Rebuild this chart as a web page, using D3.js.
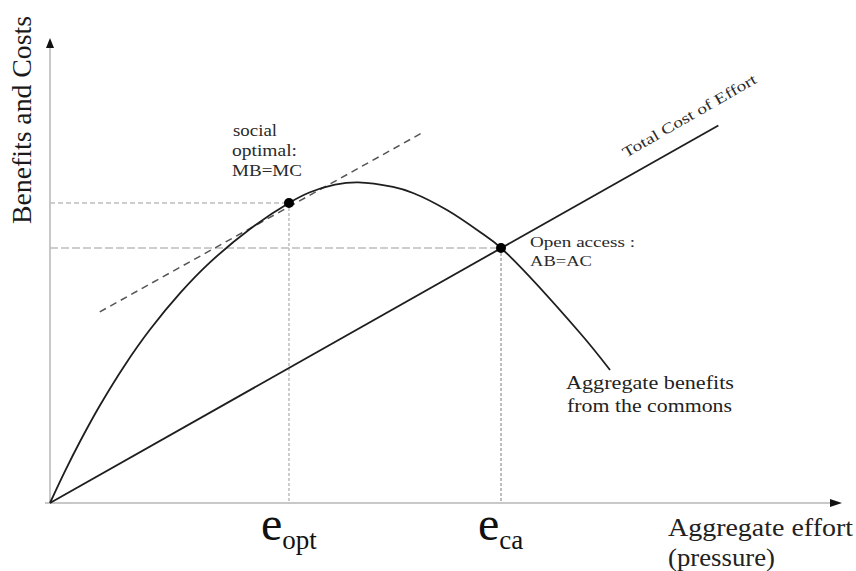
<!DOCTYPE html>
<html>
<head>
<meta charset="utf-8">
<script src="https://cdn.jsdelivr.net/npm/d3@7"></script>
<style>
  html, body { margin: 0; padding: 0; background: #fff; }
  svg { display: block; }
  text { font-family: "Liberation Serif", "Times New Roman", Times, serif; fill: #2a2a2a; }
</style>
</head>
<body>
<div id="chart"></div>
<script>
// ---- data (effort units 0..100, benefit/cost units 0..100) ----
const benefitX = [0, 1.90, 3.80, 6.33, 9.49, 12.66, 16.46, 20.25, 25.32, 30.25, 32.91, 36.08, 38.99, 43.42, 45.95, 50.25, 54.43, 57.09, 67.09, 70.89];
const benefitY = [0, 6.85, 13.22, 21.02, 29.70, 37.30, 45.13, 51.74, 58.92, 64.52, 66.82, 68.47, 68.97, 67.96, 66.67, 63.01, 58.28, 54.84, 36.56, 28.60];
const costX = [0, 84.6];
const costY = [0, 81.2];
const tangentX = [6.3, 47.1];
const tangentY = [41.1, 79.6];
const eOpt = 30.25, bOpt = 64.52;
const eCa = 57.09, bCa = 54.84;
const tickMain = ["e", "e"];
const tickSub = ["opt", "ca"];
const tickValues = [eOpt, eCa];

const W = 856, H = 571;
const FONT = '"Liberation Serif", "Times New Roman", Times, serif';
const svg = d3.select("#chart").append("svg").attr("width", W).attr("height", H);

const x = d3.scaleLinear().domain([0, 100]).range([50, 840]);
const y = d3.scaleLinear().domain([0, 100]).range([503, 38]);

const axisColor = "#c8c8c8";

// axes (no ticks) using d3 axis generators
const xAxis = svg.append("g").attr("transform", `translate(0,${y(0)})`)
  .call(d3.axisBottom(x).tickValues([]).tickSizeOuter(0));
xAxis.select(".domain").attr("stroke", axisColor).attr("stroke-width", 2)
  .attr("d", `M${x(0) - 5},0H${x(100) - 8}`);
const yAxis = svg.append("g").attr("transform", `translate(${x(0)},0)`)
  .call(d3.axisLeft(y).tickValues([]).tickSizeOuter(0));
yAxis.select(".domain").attr("stroke", axisColor).attr("stroke-width", 2)
  .attr("d", `M0,${y(0) + 1}V${y(100) + 4}`);

// arrowheads
svg.append("path")
  .attr("d", `M${x(0)},${y(100)} L${x(0) - 4},${y(100) + 10} L${x(0) + 4},${y(100) + 10} Z`)
  .attr("fill", "#111");
svg.append("path")
  .attr("d", `M${x(100) + 2},${y(0)} L${x(100) - 10},${y(0) - 4} L${x(100) - 10},${y(0) + 4} Z`)
  .attr("fill", "#111");

// reference lines
const refColor = "#bdbdbd";
svg.append("line").attr("x1", x(0)).attr("x2", x(eOpt)).attr("y1", y(bOpt)).attr("y2", y(bOpt))
  .attr("stroke", refColor).attr("stroke-width", 1.5).attr("stroke-dasharray", "5,3");
svg.append("line").attr("x1", x(0)).attr("x2", x(eCa)).attr("y1", y(bCa)).attr("y2", y(bCa))
  .attr("stroke", refColor).attr("stroke-width", 1.5).attr("stroke-dasharray", "8,3");
svg.append("line").attr("x1", x(eOpt)).attr("x2", x(eOpt)).attr("y1", y(bOpt)).attr("y2", y(0))
  .attr("stroke", refColor).attr("stroke-width", 1.5).attr("stroke-dasharray", "3,2");
svg.append("line").attr("x1", x(eCa)).attr("x2", x(eCa)).attr("y1", y(bCa)).attr("y2", y(0))
  .attr("stroke", "#a8a8a8").attr("stroke-width", 1.5).attr("stroke-dasharray", "3,2");

// tangent (dashed)
const line = d3.line().x(d => x(d[0])).y(d => y(d[1]));
svg.append("path").datum(d3.zip(tangentX, tangentY))
  .attr("d", line).attr("fill", "none").attr("stroke", "#555")
  .attr("stroke-width", 1.5).attr("stroke-dasharray", "7,5");

// cost line
svg.append("path").datum(d3.zip(costX, costY))
  .attr("d", line).attr("fill", "none").attr("stroke", "#1e1e1e").attr("stroke-width", 1.8);

// benefit curve
const curve = d3.line().x(d => x(d[0])).y(d => y(d[1])).curve(d3.curveCatmullRom.alpha(0.5));
svg.append("path").datum(d3.zip(benefitX, benefitY))
  .attr("d", curve).attr("fill", "none").attr("stroke", "#1e1e1e").attr("stroke-width", 1.8);

// points
svg.selectAll("circle.pt").data([[eOpt, bOpt], [eCa, bCa]]).enter().append("circle")
  .attr("cx", d => x(d[0])).attr("cy", d => y(d[1])).attr("r", 5).attr("fill", "#000");

// tick labels e_opt, e_ca
tickValues.forEach((v, i) => {
  const t = svg.append("text").attr("x", x(v) - 28 + (i === 1 ? 5 : 0)).attr("y", 540)
    .attr("font-family", FONT).style("font-size", "48px").style("fill", "#111");
  t.append("tspan").text(tickMain[i]);
  t.append("tspan").attr("dy", 9).style("font-size", "27px").text(tickSub[i]);
});

// helper for text
function label(txt, px, py, size, len, rot) {
  const t = svg.append("text").attr("x", px).attr("y", py)
    .attr("font-family", FONT).style("font-size", size + "px").text(txt);
  if (len) t.attr("textLength", len).attr("lengthAdjust", "spacingAndGlyphs");
  if (rot) t.attr("transform", `rotate(${rot},${px},${py})`);
  return t;
}

// y axis title
label("Benefits and Costs", 31, 224, 27, 208, -90).style("fill", "#1a1a1a");

// x axis title
label("Aggregate effort", 668, 536, 25, 185).style("fill", "#222");
label("(pressure)", 668, 566, 25, 107).style("fill", "#222");

// annotations
label("social", 233, 136, 17, 44);
label("optimal:", 232, 156, 17, 65);
label("MB=MC", 232, 176, 17, 70);
label("Open access :", 530, 247, 15, 105);
label("AB=AC", 530, 266, 15, 62);
label("Aggregate benefits", 566, 389, 19, 168).style("fill", "#222");
label("from the commons", 567, 412, 19, 165).style("fill", "#222");
label("Total Cost of Effort", 626, 158, 15, 152, -29.9);
</script>
</body>
</html>
